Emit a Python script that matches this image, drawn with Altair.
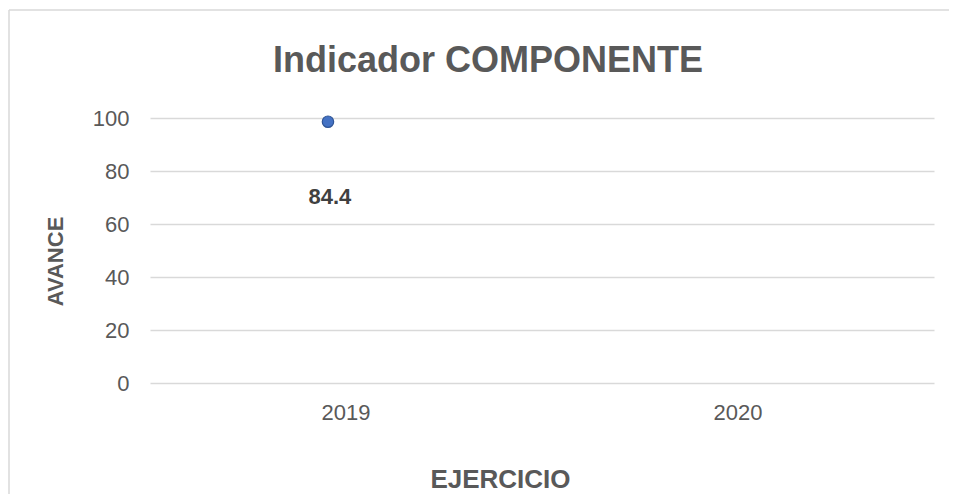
import altair as alt
import pandas as pd

# ---- data ----
years = ["2019", "2020"]
point_years = ["2019"]
point_values = [98.6]
point_labels = ["84.4"]
y_ticks = [0, 20, 40, 60, 80, 100]

df = pd.DataFrame({"year": point_years, "avance": point_values, "label": point_labels})

TXT = "#595959"


def x_enc(band_pos):
    return alt.X(
        "year:N",
        bandPosition=band_pos,
        scale=alt.Scale(domain=years, type="band", paddingInner=0, paddingOuter=0),
        axis=alt.Axis(
            title="EJERCICIO", labelAngle=0, labelFontSize=22, labelColor=TXT,
            labelPadding=19, ticks=False, domain=False, grid=False,
            titleFontSize=26, titleFontWeight="bold", titleColor=TXT,
            titleX=350, titleY=104, titleBaseline="alphabetic", titleAlign="center",
        ),
    )


y = alt.Y(
    "avance:Q",
    scale=alt.Scale(domain=[0, 100], nice=False),
    axis=alt.Axis(
        values=y_ticks, title="AVANCE", labelFontSize=22, labelColor=TXT,
        labelPadding=21, ticks=False, domain=False,
        gridColor="#d9d9d9", gridWidth=1.5,
        titleFontSize=22, titleFontWeight="bold", titleColor=TXT,
        titleX=-88, titleY=143, titleBaseline="alphabetic", titleAngle=270,
        titleAlign="center",
    ),
)

base = alt.Chart(df)

points = base.mark_circle(
    size=130, color="#4472C4", stroke="#2F5597", strokeWidth=1.2, opacity=1
).encode(x=x_enc(0.454), y=y)

labels = base.mark_text(
    fontSize=22, fontWeight="bold", color="#404040", dy=75, baseline="middle"
).encode(x=x_enc(0.459), y=y, text="label:N")

frame_left = alt.Chart(df).mark_rule(color="#d9d9d9", strokeWidth=1.5).encode(
    x=alt.value(-141), y=alt.value(-108), y2=alt.value(380)
)
frame_top = alt.Chart(df).mark_rule(color="#d9d9d9", strokeWidth=1.5).encode(
    x=alt.value(-141), x2=alt.value(800), y=alt.value(-108)
)

chart = (
    alt.layer(frame_left, frame_top, points, labels)
    .properties(
        width=784,
        height=265,
        padding={"left": 142, "top": 110, "right": 15, "bottom": 111},
        autosize=alt.AutoSizeParams(type="none"),
        title=alt.TitleParams(
            "Indicador COMPONENTE", fontSize=36, fontWeight="bold", color=TXT,
            anchor="middle", dx=-54, offset=-99, baseline="alphabetic",
        ),
        background="white",
    )
    .configure(font="Liberation Sans")
    .configure_view(stroke=None)
)

chart.save("out.html", embed_options={"renderer": "svg", "actions": False})
